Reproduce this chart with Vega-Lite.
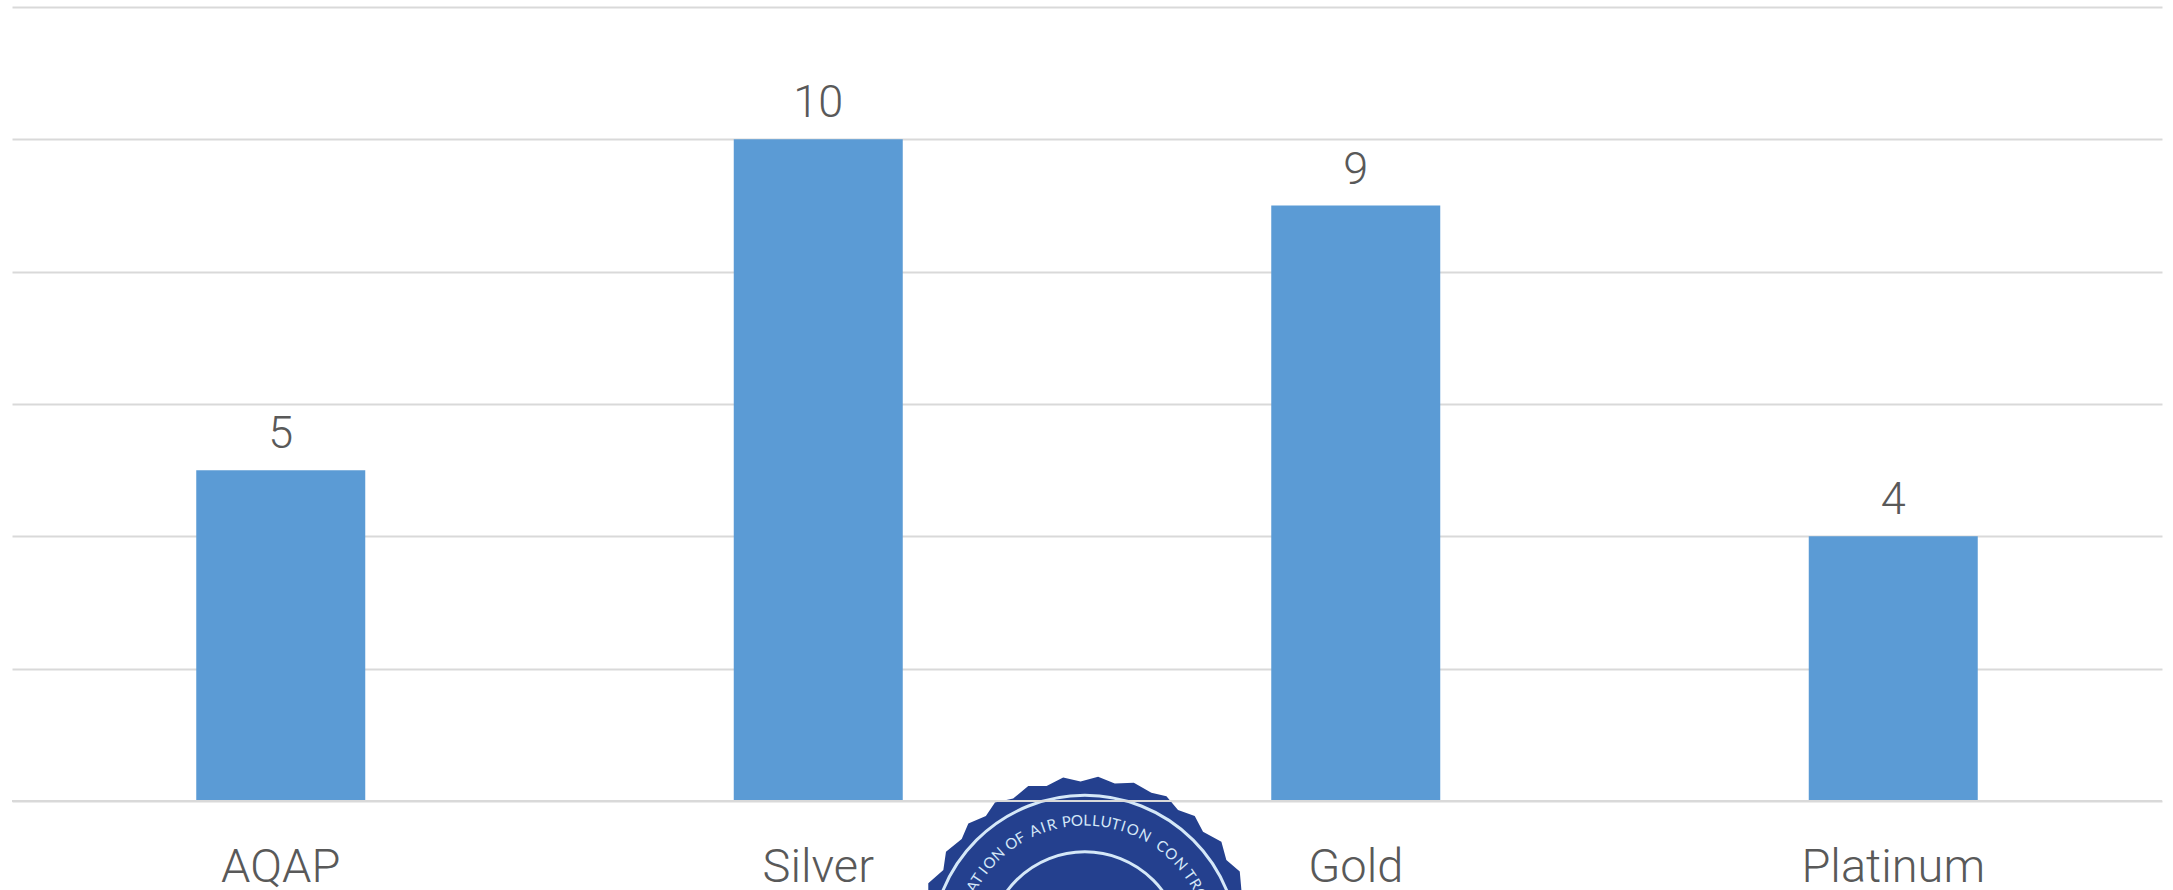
{"$schema":"https://vega.github.io/schema/vega-lite/v6.json","width":2150,"height":794,"autosize":{"type":"none"},"padding":{"left":12,"top":7,"right":11,"bottom":89},"background":"#ffffff","view":{"stroke":null},
"datasets":{"bars":[{"level":"AQAP","count":5},{"level":"Silver","count":10},{"level":"Gold","count":9},{"level":"Platinum","count":4}],
"seal":[{"px":1.996,"py":-2.13}],"rings":[{"px":1.996,"py":-2.23}],
"letters":[{"ch":"A","px":1.996,"py":-2.23,"a":-61},{"ch":"T","px":1.996,"py":-2.23,"a":-57},{"ch":"I","px":1.996,"py":-2.23,"a":-52.5},{"ch":"O","px":1.996,"py":-2.23,"a":-48},{"ch":"N","px":1.996,"py":-2.23,"a":-42.5},{"ch":"O","px":1.996,"py":-2.23,"a":-35},{"ch":"F","px":1.996,"py":-2.23,"a":-30.3},{"ch":"A","px":1.996,"py":-2.23,"a":-23},{"ch":"I","px":1.996,"py":-2.23,"a":-19},{"ch":"R","px":1.996,"py":-2.23,"a":-15},{"ch":"P","px":1.996,"py":-2.23,"a":-8.2},{"ch":"O","px":1.996,"py":-2.23,"a":-3.6},{"ch":"L","px":1.996,"py":-2.23,"a":1},{"ch":"L","px":1.996,"py":-2.23,"a":5},{"ch":"U","px":1.996,"py":-2.23,"a":9.5},{"ch":"T","px":1.996,"py":-2.23,"a":14},{"ch":"I","px":1.996,"py":-2.23,"a":17.5},{"ch":"O","px":1.996,"py":-2.23,"a":22},{"ch":"N","px":1.996,"py":-2.23,"a":28},{"ch":"C","px":1.996,"py":-2.23,"a":37},{"ch":"O","px":1.996,"py":-2.23,"a":42.4},{"ch":"N","px":1.996,"py":-2.23,"a":48.6},{"ch":"T","px":1.996,"py":-2.23,"a":55},{"ch":"R","px":1.996,"py":-2.23,"a":59.7},{"ch":"O","px":1.996,"py":-2.23,"a":65}]},
"resolve":{"scale":{"x":"independent"}},
"layer":[
{"data":{"name":"bars"},"mark":{"type":"bar","width":169,"color":"#5b9bd5"},"encoding":{"x":{"field":"level","type":"nominal","sort":null,"scale":{"paddingInner":0,"paddingOuter":0},"axis":{"title":null,"domain":false,"ticks":false,"labelAngle":0,"labelFont":"Roboto","labelFontWeight":300,"labelFontSize":47,"labelColor":"#595959","labelPadding":43,"labelLimit":500,"labelBound":false,"labelOverlap":false}},"y":{"field":"count","type":"quantitative","scale":{"domain":[0,12],"nice":false},"axis":{"title":null,"domain":false,"ticks":false,"labels":false,"values":[0,2,4,6,8,10,12],"grid":true,"gridColor":"#d9d9d9","gridWidth":2}}}},
{"data":{"name":"bars"},"mark":{"type":"text","baseline":"alphabetic","dy":-22,"font":"Roboto","fontWeight":300,"fontSize":45,"color":"#595959"},"encoding":{"x":{"field":"level","type":"nominal","sort":null,"scale":{"paddingInner":0,"paddingOuter":0},"axis":null},"y":{"field":"count","type":"quantitative"},"text":{"field":"count","type":"quantitative"}}},
{"data":{"name":"seal"},"mark":{"type":"point","filled":true,"opacity":1,"color":"#24408e","size":109561,"shape":"M-0.946,-0.354L-0.855,-0.435L-0.839,-0.545L-0.744,-0.622L-0.704,-0.716L-0.598,-0.761L-0.543,-0.843L-0.433,-0.867L-0.342,-0.942L-0.231,-0.942L-0.131,-0.994L-0.026,-0.970L0.080,-0.998L0.181,-0.958L0.296,-0.962L0.402,-0.901L0.493,-0.881L0.563,-0.797L0.664,-0.761L0.714,-0.666L0.825,-0.606L0.855,-0.495L0.936,-0.425L0.946,-0.314L0.946,1L-0.946,1Z"},"encoding":{"x":{"field":"px","type":"quantitative","scale":{"domain":[0,4],"nice":false,"zero":false},"axis":null},"y":{"field":"py","type":"quantitative"}}},
{"data":{"name":"rings"},"mark":{"type":"point","filled":false,"opacity":1,"color":"#d5e8f8","strokeWidth":3,"size":94004},"encoding":{"x":{"field":"px","type":"quantitative","scale":{"domain":[0,4],"nice":false,"zero":false},"axis":null},"y":{"field":"py","type":"quantitative"}}},
{"data":{"name":"rings"},"mark":{"type":"point","filled":false,"opacity":1,"color":"#d5e8f8","strokeWidth":3,"size":37404},"encoding":{"x":{"field":"px","type":"quantitative","scale":{"domain":[0,4],"nice":false,"zero":false},"axis":null},"y":{"field":"py","type":"quantitative"}}},
{"data":{"name":"letters"},"mark":{"type":"text","font":"Lato","fontSize":15,"color":"#d5e8f8","baseline":"middle","align":"center","radius":128},"encoding":{"x":{"field":"px","type":"quantitative","scale":{"domain":[0,4],"nice":false,"zero":false},"axis":null},"y":{"field":"py","type":"quantitative"},"theta":{"field":"a","type":"quantitative","scale":{"domain":[-180,180],"range":[-3.14159265,3.14159265]}},"angle":{"field":"a","type":"quantitative","scale":null},"text":{"field":"ch"}}},
{"data":{"values":[{"base":0}]},"mark":{"type":"rule","color":"#d9d9d9","strokeWidth":2},"encoding":{"y":{"field":"base","type":"quantitative"}}}
]}
